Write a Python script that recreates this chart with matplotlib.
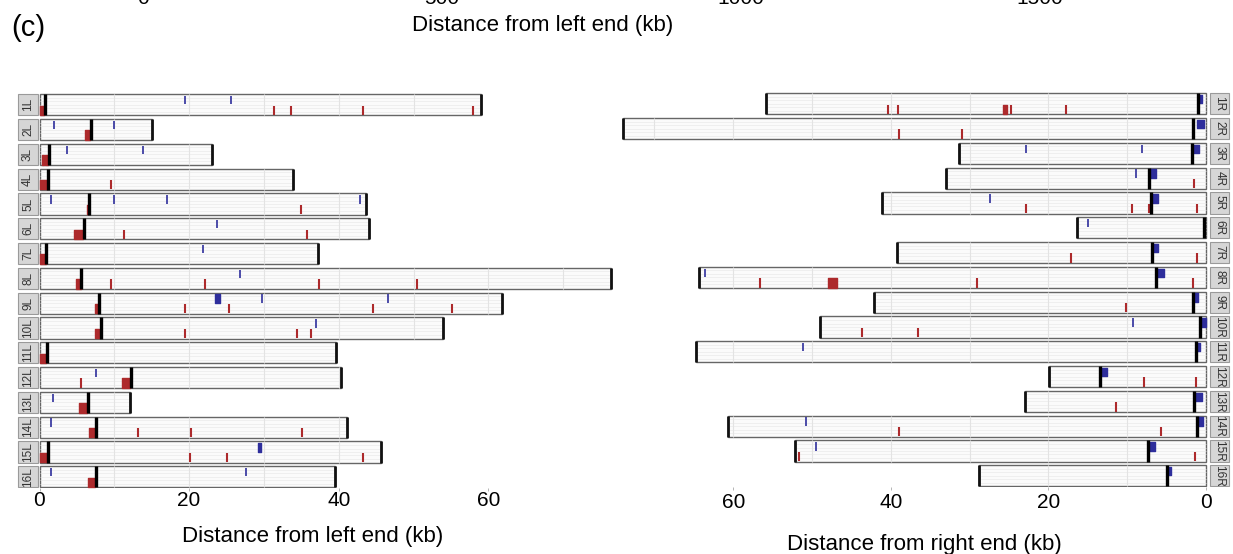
#!/usr/bin/env python3
"""
Subtelomeric features along each chromosome arm, left and right ends
"""

import matplotlib
matplotlib.use('Agg')
import matplotlib.pyplot as plt
from matplotlib.patches import Rectangle

plt.rcParams['font.family'] = ['Liberation Sans', 'DejaVu Sans']

# ---- data (kb) ----
left_arms = ['1L', '2L', '3L', '4L', '5L', '6L', '7L', '8L',
             '9L', '10L', '11L', '12L', '13L', '14L', '15L', '16L']
left_length = [59.0, 15.1, 23.0, 33.9, 43.7, 44.0, 37.2, 76.4,
               61.8, 54.0, 39.7, 40.3, 12.1, 41.1, 45.6, 39.5]
left_boundary = [0.8, 6.9, 1.3, 1.2, 6.6, 5.9, 0.9, 5.6,
                 8.0, 8.2, 1.0, 12.2, 6.5, 7.6, 1.2, 7.5]
left_red_blocks = [[(0.05, 0.55)], [(6.1, 6.8)], [(0.3, 0.6), (0.8, 1.15)], [(0.1, 1.1)],
                   [(6.3, 6.6)], [(4.6, 5.8)], [(0.05, 0.85)], [(4.9, 5.5)],
                   [(7.4, 7.9)], [(7.4, 8.0)], [(0.05, 0.85)], [(11.0, 12.1)],
                   [(5.3, 6.4)], [(6.6, 7.5)], [(0.1, 1.0)], [(6.5, 7.4)]]
left_blue_blocks = [[], [], [], [], [], [], [], [],
                    [(23.5, 24.1)], [], [], [], [], [], [(29.2, 29.6)], []]
left_red_ticks = [[31.4, 33.6, 43.2, 58.0], [], [], [9.6],
                  [35.0], [11.3, 35.7], [], [9.5, 22.1, 37.3, 50.5],
                  [19.5, 25.4, 44.6, 55.2], [19.5, 34.4, 36.3], [], [5.6],
                  [], [13.2, 20.2, 35.1], [20.1, 25.1, 43.2], []]
left_blue_ticks = [[19.5, 25.6], [1.9, 9.9], [3.7, 13.8], [],
                   [1.6, 9.9, 17.0, 42.9], [23.7], [21.9], [26.8],
                   [29.8, 46.6], [37.0], [], [7.5],
                   [1.8], [1.6], [], [1.6, 27.6]]

right_arms = ['1R', '2R', '3R', '4R', '5R', '6R', '7R', '8R',
              '9R', '10R', '11R', '12R', '13R', '14R', '15R', '16R']
right_length = [55.9, 74.0, 31.3, 33.0, 41.1, 16.4, 39.2, 64.4,
                42.1, 49.0, 64.7, 19.9, 23.0, 60.6, 52.1, 28.8]
right_boundary = [1.0, 1.7, 1.8, 7.2, 7.0, 0.3, 6.9, 6.3,
                  1.7, 0.7, 1.3, 13.4, 1.5, 1.2, 7.3, 5.0]
right_blue_blocks = [[(0.45, 0.95)], [(0.3, 1.1)], [(0.85, 1.7)], [(6.4, 7.2)],
                     [(6.1, 6.9)], [], [(6.1, 6.7)], [(5.3, 6.2)],
                     [(1.0, 1.55)], [(0.05, 0.6)], [(0.7, 1.2)], [(12.6, 13.3)],
                     [(0.55, 1.4)], [(0.4, 1.1)], [(6.5, 7.2)], [(4.4, 4.9)]]
right_red_blocks = [[(25.3, 25.7)], [], [], [], [], [], [], [(46.8, 48.0)],
                    [], [], [], [], [], [], [], []]
right_red_ticks = [[40.3, 39.1, 24.7, 17.8], [39.0, 31.0], [], [1.5],
                   [22.8, 9.4, 7.2, 1.2], [], [17.1, 1.1], [56.6, 29.1, 1.6],
                   [10.2], [43.7, 36.6], [], [7.9, 1.3],
                   [11.4], [38.9, 5.7], [51.6, 1.4], []]
right_blue_ticks = [[], [], [22.8, 8.1], [8.9],
                    [27.4], [15.0], [], [63.6],
                    [], [9.3], [51.1], [],
                    [], [50.7], [49.5], []]

top_ticks = [0, 500, 1000, 1500]
bottom_ticks = [0, 20, 40, 60]

RED = '#ad2a2c'
BLUE = '#2e2e9c'
W, H = 1233, 554
BAR_H = 0.85


def px_box(x0, x1, y0, y1):
    return [x0 / W, 1 - y1 / H, (x1 - x0) / W, (y1 - y0) / H]


def yspan(row, lo, hi):
    # fractions measured from the visual bottom of the bar (y axis inverted)
    base = row + BAR_H / 2
    return base - hi * BAR_H, (hi - lo) * BAR_H


def draw_arm(ax, row, length, boundary, red_blocks, blue_blocks, red_ticks, blue_ticks):
    top = row - BAR_H / 2
    ax.add_patch(Rectangle((0, top), length, BAR_H, facecolor='#fbfbfb',
                           edgecolor='#666666', lw=1.0, zorder=1))
    for f in (0.17, 0.34, 0.5, 0.66, 0.83):
        ax.hlines(top + f * BAR_H, 0, length, color='#ebebeb', lw=0.5, zorder=1.5)
    grid = [g for g in range(10, 80, 10) if g < length]
    ax.vlines(grid, top, top + BAR_H, color='#e3e3e3', lw=0.8, zorder=1.5)
    ax.vlines(length, top, top + BAR_H, color='#111111', lw=2.0, zorder=4)

    y, h = yspan(row, 0.02, 0.46)
    ax.broken_barh([(a, b - a) for a, b in red_blocks], (y, h), color=RED, zorder=3)
    ax.vlines(red_ticks, y, y + h, color=RED, lw=1.5, zorder=3)
    y, h = yspan(row, 0.52, 0.92)
    ax.broken_barh([(a, b - a) for a, b in blue_blocks], (y, h), color=BLUE, zorder=3)
    ax.vlines(blue_ticks, y, y + h, color=BLUE, lw=1.2, zorder=3)

    ax.vlines(boundary, top, top + BAR_H, color='black', lw=2.4, zorder=4)


def draw_strip(ax, row, label, x0, x1, rotation):
    top = row - BAR_H / 2
    ax.add_patch(Rectangle((min(x0, x1), top), abs(x1 - x0), BAR_H,
                           facecolor='#d6d6d6', edgecolor='#9a9a9a', lw=0.8, zorder=2))
    ax.text((x0 + x1) / 2, row, label, rotation=rotation, ha='center', va='center',
            fontsize=8.5, color='#333333', zorder=3)


def style_axis(ax, xlabel, labelpad, pad):
    for s in ax.spines.values():
        s.set_visible(False)
    ax.set_yticks([])
    ax.set_xticks(bottom_ticks)
    ax.tick_params(axis='x', length=2.5, width=0.6, color='#aaaaaa',
                   labelsize=15, pad=pad)
    ax.set_xlabel(xlabel, fontsize=16, labelpad=labelpad)
    ax.patch.set_visible(False)


fig = plt.figure(figsize=(W / 100, H / 100), dpi=100)

row_top, row_bottom = 88, 488
ylim = (15 + (row_bottom - 476.8) / 24.8, -(104.8 - row_top) / 24.8)

# left ends
zero_l, scale_l = 39.5, 7.48
ax_l = fig.add_axes(px_box(10, 616, row_top, row_bottom))
ax_l.set_xlim((10 - zero_l) / scale_l, (616 - zero_l) / scale_l)
ax_l.set_ylim(*ylim)
for i, arm in enumerate(left_arms):
    draw_arm(ax_l, i, left_length[i], left_boundary[i], left_red_blocks[i],
             left_blue_blocks[i], left_red_ticks[i], left_blue_ticks[i])
    draw_strip(ax_l, i, arm, (18 - zero_l) / scale_l, (38 - zero_l) / scale_l, 90)
style_axis(ax_l, 'Distance from left end (kb)', labelpad=11, pad=0)

# right ends
zero_r, scale_r = 1206, 7.88
ax_r = fig.add_axes(px_box(616, 1233, row_top - 1, row_bottom - 1))
ax_r.set_xlim((zero_r - 616) / scale_r, (zero_r - 1233) / scale_r)
ax_r.set_ylim(*ylim)
for i, arm in enumerate(right_arms):
    draw_arm(ax_r, i, right_length[i], right_boundary[i], right_red_blocks[i],
             right_blue_blocks[i], right_red_ticks[i], right_blue_ticks[i])
    draw_strip(ax_r, i, arm, (zero_r - 1210) / scale_r, (zero_r - 1229) / scale_r, 270)
style_axis(ax_r, 'Distance from right end (kb)', labelpad=16, pad=2)

# remnant of the panel above, cut by the figure edge
ax_t = fig.add_axes(px_box(143, 1040, -24, -14))
ax_t.set_xlim(0, 1500)
ax_t.set_xticks(top_ticks)
ax_t.set_yticks([])
for s in ax_t.spines.values():
    s.set_visible(False)
ax_t.patch.set_visible(False)
ax_t.tick_params(axis='x', length=0, labelsize=15, pad=2)
ax_t.set_xlabel('Distance from left end (kb)', fontsize=16, labelpad=5)
ax_t.xaxis.label.set_x(0.445)

fig.text(28 / W, 1 - 28 / H, '(c)', fontsize=21, ha='center', va='center')

fig.savefig('out.png', dpi=100)
